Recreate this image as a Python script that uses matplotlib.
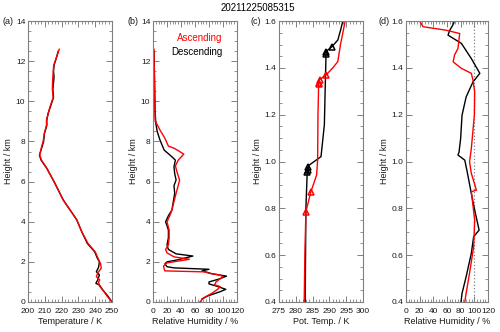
import matplotlib
matplotlib.use('Agg')
import matplotlib.pyplot as plt
from matplotlib.ticker import MultipleLocator, FormatStrFormatter

plt.rcParams['font.family'] = ['Liberation Sans Narrow', 'Liberation Sans', 'DejaVu Sans']

# Data
title = '20211225085315'

# (a) temperature profile, 0-12.6 km
h_t_asc = [0.0, 0.3, 0.6, 0.8, 1.0, 1.1, 1.26, 1.45, 1.68, 1.9, 2.18, 2.5, 2.92, 3.5, 4.1, 5.08, 6.0, 6.66,
           7.07, 7.32, 7.74, 8.0, 8.4, 8.8, 9.07, 9.4, 9.7, 10.2, 10.6, 11.1, 11.5, 11.8, 12.2, 12.6]
t_asc = [250, 247, 244.5, 242.5, 242, 242.7, 240.7, 241.5, 243.6, 243.2, 241.7, 240, 235.7, 232, 229, 221,
         215.5, 211.2, 208, 207, 208.1, 209, 209.7, 211, 211, 212, 213, 215, 214.5, 214.7, 215, 215.3, 217, 218.6]
h_t_desc = [0.0, 0.3, 0.6, 0.85, 0.93, 1.1, 1.35, 1.51, 1.73, 2.0, 2.18, 2.5, 2.92, 3.5, 4.1, 5.08, 6.0, 6.66,
            7.07, 7.32, 7.8, 8.0, 8.4, 8.8, 9.07, 9.4, 9.7, 10.2, 10.6, 11.2, 11.5, 11.8, 12.2, 12.5]
t_desc = [250, 247.5, 244.5, 242.5, 240.4, 241.5, 242.5, 240.7, 242, 242.5, 241.3, 239.7, 235.3, 232, 229, 221,
          215.5, 211.2, 207.8, 206.8, 208.6, 209.3, 209.8, 211.2, 211.2, 212, 213.2, 215.2, 214.8, 215.5, 215.2,
          215.5, 217, 218]

# (b) relative humidity profile
h_rh_asc = [0.0, 0.2, 0.45, 0.65, 0.77, 0.85, 1.0, 1.26, 1.35, 1.43, 1.5, 1.55, 1.65, 1.79, 1.95, 2.05, 2.13,
            2.25, 2.45, 2.62, 2.84, 3.2, 3.59, 4.0, 4.3, 4.58, 5.0, 5.42, 5.8, 6.08, 6.4, 6.78, 7.07, 7.37, 7.65,
            7.77, 8.16, 8.57, 8.9, 9.07, 10.0, 11.0, 12.6]
rh_asc = [67, 72, 85, 93, 96, 88, 90, 100, 95, 80, 75, 17, 16, 15, 20, 38, 52, 30, 20, 18, 22, 23, 23, 20, 24,
          27, 30, 33, 36, 38, 35, 32, 36, 44, 31, 22, 17, 10, 5, 3, 2.5, 2, 1.4]
h_rh_desc = [0.15, 0.3, 0.5, 0.63, 0.8, 0.9, 1.0, 1.15, 1.29, 1.4, 1.55, 1.63, 1.7, 1.76, 1.9, 2.0, 2.1, 2.29,
             2.4, 2.62, 2.84, 3.2, 3.59, 4.0, 4.3, 4.58, 5.0, 5.42, 5.8, 6.08, 6.4, 6.74, 7.07, 7.24, 7.57, 8.07,
             8.5, 8.9, 9.5, 10.5, 12.5]
rh_desc = [70, 78, 95, 104, 90, 80, 80, 95, 105, 85, 70, 80, 30, 20, 17, 20, 35, 57, 33, 22, 20, 22, 22, 18, 22,
           27, 29, 31, 30, 33, 31, 30, 32, 27, 16, 10, 6, 4, 3, 2.5, 1.5]

# (c) potential temperature, 0.4-1.6 km
h_th_asc = [0.4, 0.6, 0.786, 0.871, 0.943, 1.007, 1.2, 1.33, 1.335, 1.349, 1.37, 1.40, 1.427, 1.5, 1.6]
th_asc = [282.5, 282.7, 283.0, 284.5, 286.2, 286.5, 286.6, 286.8, 287.0, 287.0, 289.0, 291.0, 292.5, 293.3, 294.7]
h_th_desc = [0.4, 0.6, 0.80, 0.955, 0.965, 0.975, 0.985, 1.021, 1.157, 1.342, 1.46, 1.47, 1.49, 1.519, 1.56, 1.6]
th_desc = [282.8, 282.9, 283.0, 283.4, 283.5, 283.5, 284.0, 287.5, 288.5, 288.8, 289.0, 289.0, 290.7, 292.5,
           293.3, 294.0]
h_mark_asc = [0.786, 0.871, 1.33, 1.335, 1.349, 1.37]
th_mark_asc = [283.0, 284.5, 287.0, 287.0, 287.1, 289.0]
h_mark_desc = [0.955, 0.965, 0.975, 1.46, 1.47, 1.49]
th_mark_desc = [283.4, 283.5, 283.5, 289.0, 289.0, 290.7]

# (d) relative humidity, 0.4-1.6 km
h_rd_asc = [0.4, 0.437, 0.523, 0.636, 0.75, 0.871, 0.878, 0.95, 0.999, 1.056, 1.198, 1.298, 1.348, 1.377,
            1.398, 1.426, 1.455, 1.483, 1.547, 1.561, 1.576, 1.6]
rd_asc = [86, 88, 93, 99, 100.5, 95.6, 103, 95.6, 93, 95.6, 100, 100.5, 98, 95.6, 81, 69, 71, 76, 78.6, 59, 25, 20]
h_rd_desc = [0.4, 0.437, 0.508, 0.608, 0.679, 0.707, 0.793, 0.864, 0.964, 1.006, 1.028, 1.04, 1.1, 1.198,
             1.276, 1.34, 1.377, 1.44, 1.505, 1.54, 1.561, 1.583, 1.6]
rd_desc = [80.5, 82, 88, 95.6, 99, 107, 100.5, 95.6, 89, 86, 76, 77.6, 80, 82, 88, 98, 108, 95.6, 81, 61.5, 64,
           68.5, 71]

# Plot setup
fig = plt.figure(figsize=(5.0, 3.32), dpi=100)
fig.patch.set_facecolor('white')

left = [0.056, 0.306, 0.558, 0.812]
width = [0.168, 0.168, 0.168, 0.164]
axes = [fig.add_axes([l, 0.0904, w, 0.846]) for l, w in zip(left, width)]
ax_a, ax_b, ax_c, ax_d = axes

lw = 1.0
ax_a.plot(t_desc, h_t_desc, c='black', lw=lw)
ax_a.plot(t_asc, h_t_asc, c='red', lw=lw)
ax_b.plot(rh_desc, h_rh_desc, c='black', lw=lw)
ax_b.plot(rh_asc, h_rh_asc, c='red', lw=lw)
ax_c.plot(th_desc, h_th_desc, c='black', lw=lw)
ax_c.plot(th_asc, h_th_asc, c='red', lw=lw)
ax_c.plot(th_mark_desc, h_mark_desc, '^', ms=3.8, mfc='none', mec='black', mew=1.1)
ax_c.plot(th_mark_asc, h_mark_asc, '^', ms=3.8, mfc='none', mec='red', mew=1.1)
ax_d.axvline(100, color='0.5', ls=':', lw=0.9)
ax_d.plot(rd_desc, h_rd_desc, c='black', lw=lw)
ax_d.plot(rd_asc, h_rd_asc, c='red', lw=lw)

# limits, ticks
ax_a.set_xlim(200, 250)
ax_a.set_ylim(0, 14)
ax_a.xaxis.set_major_locator(MultipleLocator(10))
ax_a.xaxis.set_minor_locator(MultipleLocator(2))
ax_b.set_xlim(0, 120)
ax_b.set_ylim(0, 14)
ax_b.xaxis.set_major_locator(MultipleLocator(20))
ax_b.xaxis.set_minor_locator(MultipleLocator(4))
for ax in (ax_a, ax_b):
    ax.yaxis.set_major_locator(MultipleLocator(2))
    ax.yaxis.set_minor_locator(MultipleLocator(0.5))
ax_c.set_xlim(275, 300)
ax_c.xaxis.set_major_locator(MultipleLocator(5))
ax_c.xaxis.set_minor_locator(MultipleLocator(1))
ax_d.set_xlim(0, 120)
ax_d.xaxis.set_major_locator(MultipleLocator(20))
ax_d.xaxis.set_minor_locator(MultipleLocator(4))
for ax in (ax_c, ax_d):
    ax.set_ylim(0.4, 1.6)
    ax.yaxis.set_major_locator(MultipleLocator(0.2))
    ax.yaxis.set_minor_locator(MultipleLocator(0.05))
    ax.yaxis.set_major_formatter(FormatStrFormatter('%.1f'))

xlabels = ['Temperature / K', 'Relative Humidity / %', 'Pot. Temp. / K', 'Relative Humidity / %']
tags = ['(a)', '(b)', '(c)', '(d)']
tag_x = [-0.30, -0.30, -0.345, -0.34]
for ax, xl, tag, tx in zip(axes, xlabels, tags, tag_x):
    for s in ax.spines.values():
        s.set_color('0.5')
        s.set_linewidth(0.8)
    ax.tick_params(which='both', direction='in', top=True, right=True, color='0.5',
                   labelsize=6, labelcolor='0.1', pad=2)
    ax.tick_params(axis='x', which='both', pad=4.5)
    ax.tick_params(which='major', length=4, width=0.7)
    ax.tick_params(which='minor', length=2, width=0.6)
    ax.set_xlabel(xl, fontsize=6.5, color='0.1', labelpad=1.5)
    ax.set_ylabel('Height / km', fontsize=6.5, color='0.1', labelpad=2)
    ax.text(tx, 1.0, tag, transform=ax.transAxes, fontsize=6.5, color='0.1', ha='left', va='center')

ax_b.text(0.83, 0.94, 'Ascending', transform=ax_b.transAxes, color='red', fontsize=7, ha='right', va='center')
ax_b.text(0.83, 0.89, 'Descending', transform=ax_b.transAxes, color='black', fontsize=7, ha='right', va='center')

fig.text(0.516, 0.976, title, fontsize=7, ha='center', va='center', family=['Liberation Sans', 'DejaVu Sans'])

plt.savefig('out.png', dpi=100)
